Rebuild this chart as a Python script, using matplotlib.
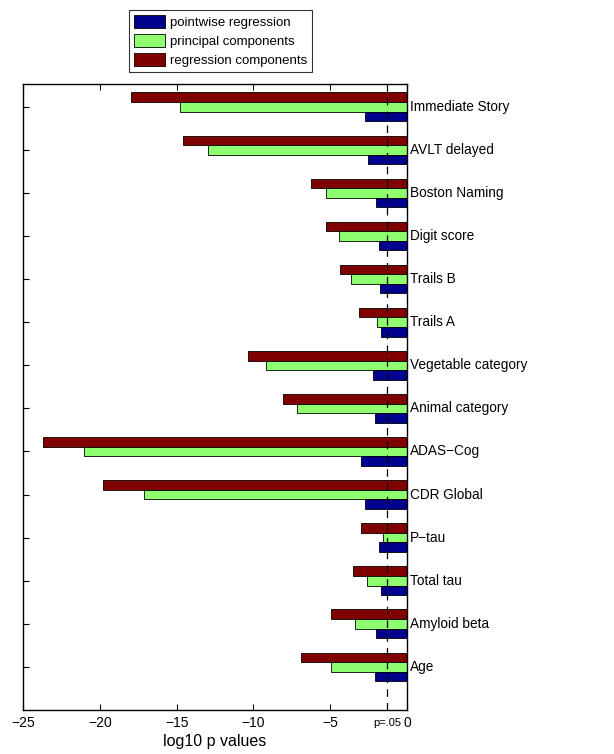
import matplotlib
matplotlib.use("Agg")
import matplotlib.pyplot as plt
import numpy as np
from matplotlib.patches import Patch

plt.rcParams['font.family'] = ['Liberation Sans', 'DejaVu Sans']

categories = ["Immediate Story", "AVLT delayed", "Boston Naming", "Digit score",
              "Trails B", "Trails A", "Vegetable category", "Animal category",
              "ADAS\u2212Cog", "CDR Global", "P\u2212tau", "Total tau",
              "Amyloid beta", "Age"]
pointwise = [-2.74, -2.52, -2.00, -1.85, -1.78, -1.69, -2.21, -2.08,
             -2.97, -2.74, -1.85, -1.72, -2.00, -2.06]
principal = [-14.79, -12.94, -5.28, -4.45, -3.63, -1.98, -9.21, -7.14,
             -21.06, -17.11, -1.54, -2.58, -3.41, -4.97]
regression = [-17.94, -14.57, -6.25, -5.28, -4.39, -3.11, -10.34, -8.10,
              -23.67, -19.78, -2.97, -3.50, -4.97, -6.93]
series_names = ["pointwise regression", "principal components", "regression components"]
colors = ["#00008F", "#8FFF70", "#800000"]
xticks = [-25, -20, -15, -10, -5, 0]
p_threshold = np.log10(0.05)

fig = plt.figure(figsize=(6.14, 7.54), dpi=100)
ax = fig.add_axes([0.0375, 0.0584, 0.663 - 0.0375, 0.8886 - 0.0584])

n = len(categories)
y = np.arange(n, 0, -1)  # Immediate Story at top
h = 0.222
ax.barh(y + h, regression, height=h, color=colors[2], edgecolor='black', linewidth=0.6)
ax.barh(y, principal, height=h, color=colors[1], edgecolor='black', linewidth=0.6)
ax.barh(y - h, pointwise, height=h, color=colors[0], edgecolor='black', linewidth=0.6)

ax.axvline(p_threshold, color='black', linestyle=(0, (6, 5)), linewidth=0.9)

ax.set_xlim(-25, 0)
ax.set_ylim(0, n + 0.53)
ax.set_xticks(xticks)
ax.set_xticklabels([("\u2212%d" % -t) if t < 0 else "0" for t in xticks], fontsize=10)
ax.set_yticks(y)
ax.set_yticklabels([])
ax.tick_params(direction='in', top=True, right=False, length=4, width=0.8)
ax.tick_params(axis='x', pad=4)
for s in ax.spines.values():
    s.set_linewidth(1.0)

for yi, c in zip(y, categories):
    ax.text(0.2, yi, c, ha='left', va='center', fontsize=9.8, clip_on=False)

ax.text(p_threshold, -0.3, "p=.05", ha='center', va='center', fontsize=8)
ax.set_xlabel("log10 p values", fontsize=11.5, labelpad=3)

handles = [Patch(facecolor=colors[i], edgecolor='black', linewidth=0.6) for i in range(3)]
leg = fig.legend(handles, series_names, loc='upper left', bbox_to_anchor=(129 / 614, 1 - 10 / 754),
                 fontsize=9.5, frameon=True, fancybox=False, edgecolor='black',
                 handlelength=2.4, handleheight=1.15, handletextpad=0.35, labelspacing=0.4,
                 borderpad=0.35, borderaxespad=0)
leg.get_frame().set_linewidth(0.8)

fig.savefig("out.png", dpi=100)
